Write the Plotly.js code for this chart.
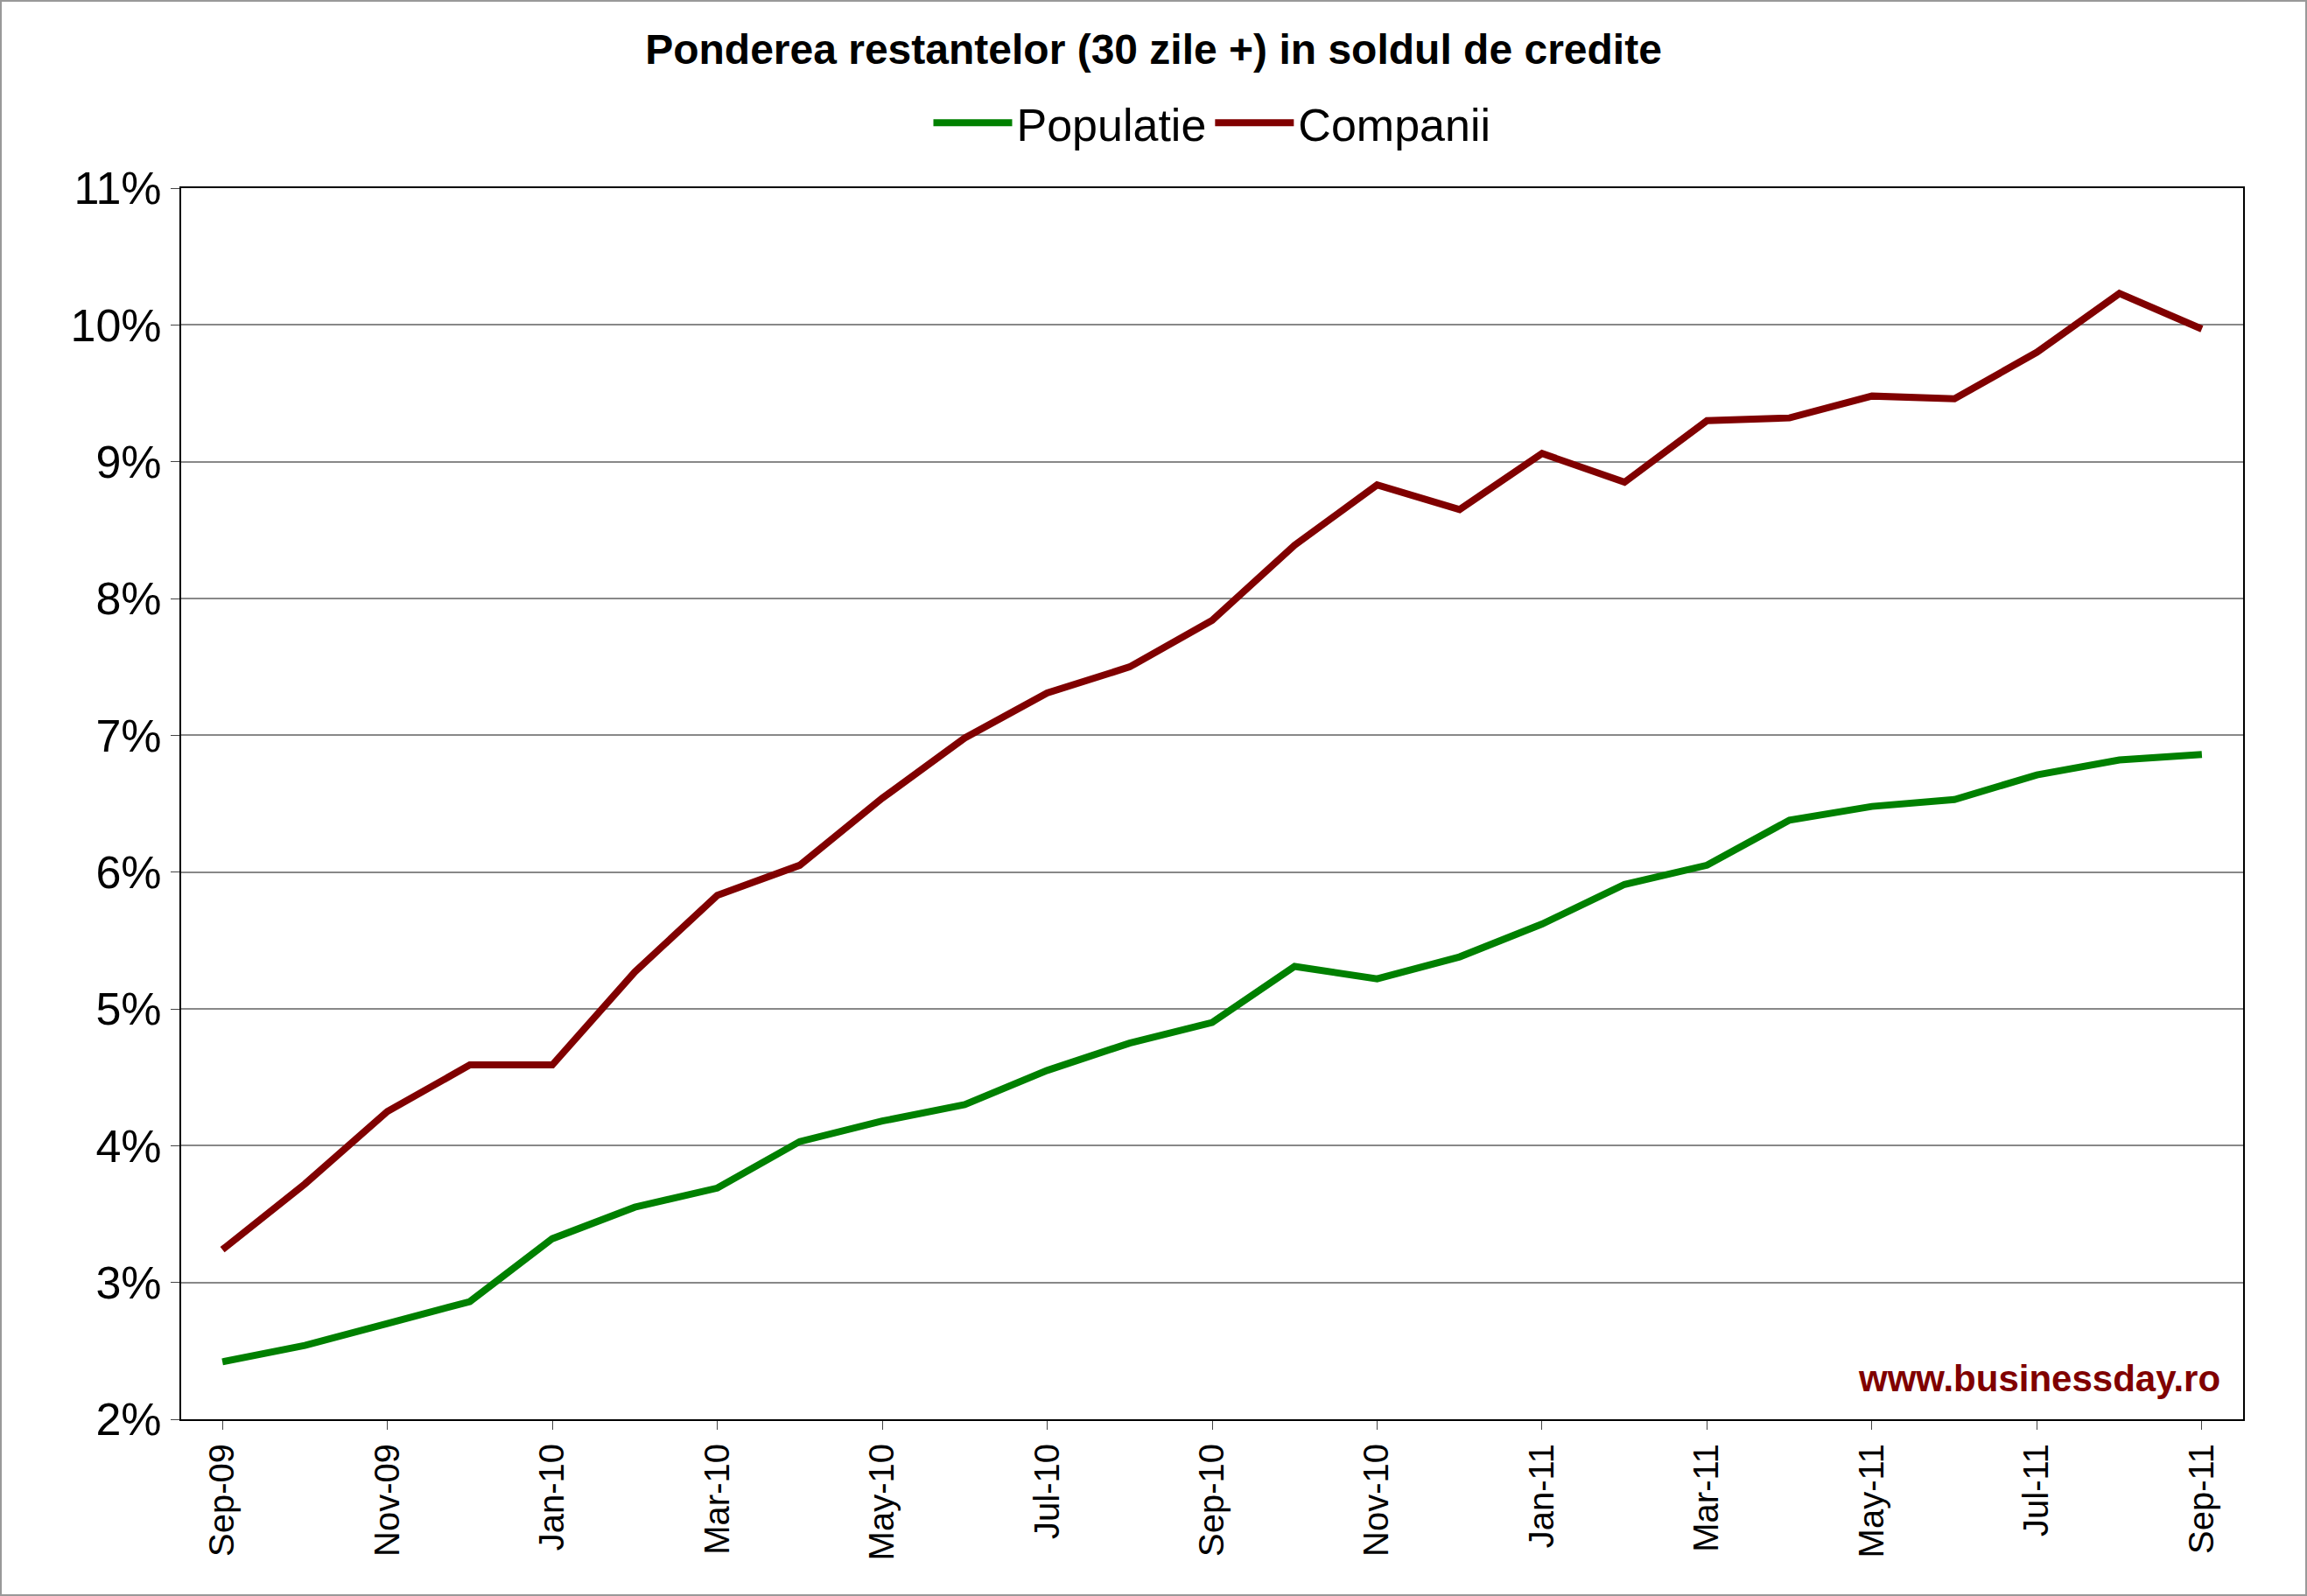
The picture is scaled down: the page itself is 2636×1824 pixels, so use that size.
<!DOCTYPE html>
<html>
<head>
<meta charset="utf-8">
<script src="https://cdn.plot.ly/plotly-3.0.1.min.js"></script>
<style>
  html, body { margin: 0; padding: 0; background: #fff; }
  #chart { width: 2636px; height: 1824px; box-sizing: border-box; border: 2px solid #999; }
</style>
</head>
<body>
<div id="chart"></div>
<script>
const months = ['Sep-09','Oct-09','Nov-09','Dec-09','Jan-10','Feb-10','Mar-10','Apr-10','May-10','Jun-10',
  'Jul-10','Aug-10','Sep-10','Oct-10','Nov-10','Dec-10','Jan-11','Feb-11','Mar-11','Apr-11',
  'May-11','Jun-11','Jul-11','Aug-11','Sep-11'];

// share of overdue loans, percent
const populatie = [2.42, 2.54, 2.70, 2.86, 3.32, 3.55, 3.69, 4.03, 4.18, 4.30,
  4.55, 4.75, 4.90, 5.31, 5.22, 5.38, 5.62, 5.91, 6.05, 6.38,
  6.48, 6.53, 6.71, 6.82, 6.86];
const companii = [3.24, 3.72, 4.25, 4.59, 4.59, 5.27, 5.83, 6.05, 6.54, 6.98,
  7.31, 7.50, 7.84, 8.39, 8.83, 8.65, 9.06, 8.85, 9.30, 9.32,
  9.48, 9.46, 9.80, 10.23, 9.97];

const yTicks = [2, 3, 4, 5, 6, 7, 8, 9, 10, 11];
const xTicks = months.filter((m, i) => i % 2 === 0);

const data = [
  { x: months, y: populatie, type: 'scatter', mode: 'lines', name: 'Populatie',
    line: { color: '#008000', width: 8 } },
  { x: months, y: companii, type: 'scatter', mode: 'lines', name: 'Companii',
    line: { color: '#800000', width: 8 } }
];

const layout = {
  width: 2632, height: 1820,
  margin: { l: 205, r: 71, t: 213, b: 200 },
  paper_bgcolor: '#fff', plot_bgcolor: '#fff',
  font: { family: 'Arial, Liberation Sans, sans-serif', color: '#000' },
  title: { text: '<b>Ponderea restantelor (30 zile +) in soldul de credite</b>',
    font: { size: 48 }, x: 0.5, xanchor: 'center', y: 0.97, yanchor: 'middle' },
  showlegend: true,
  legend: { orientation: 'h', x: 0.5, xanchor: 'center', y: 1.053, yanchor: 'middle',
    font: { size: 52 }, itemwidth: 90 },
  xaxis: {
    type: 'category', tickvals: xTicks, ticktext: xTicks, tickangle: -90,
    tickfont: { size: 40 }, showgrid: false, showline: true, mirror: true,
    linecolor: '#000', linewidth: 2, ticks: 'outside', ticklen: 10, range: [-0.5, 24.5]
  },
  yaxis: {
    range: [2, 11], tickvals: yTicks, ticktext: yTicks.map(v => v + '%'),
    tickfont: { size: 52 }, showgrid: true, gridcolor: '#888', gridwidth: 2,
    showline: true, mirror: true, linecolor: '#000', linewidth: 2,
    ticks: 'outside', ticklen: 10, zeroline: false
  },
  annotations: [{
    text: '<b>www.businessday.ro</b>', xref: 'paper', yref: 'paper',
    x: 0.99, y: 0.015, xanchor: 'right', yanchor: 'bottom', showarrow: false,
    font: { size: 42, color: '#800000' }
  }]
};

Plotly.newPlot('chart', data, layout, { displayModeBar: false });
</script>
</body>
</html>
